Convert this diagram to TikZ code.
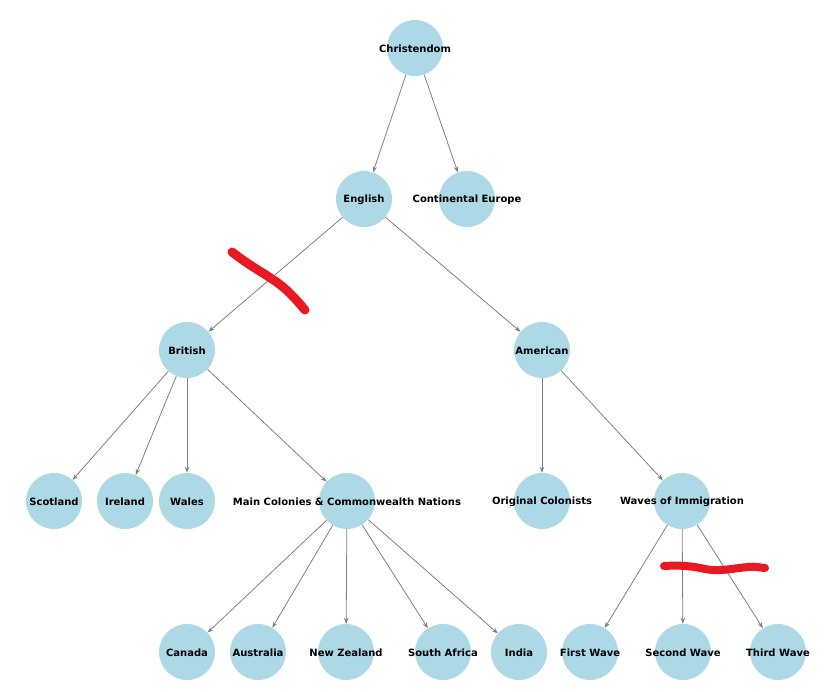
\documentclass[tikz,border=0pt]{standalone}
\usepackage{fontspec}
\setmainfont{DejaVu Sans}
\usetikzlibrary{arrows.meta}
\definecolor{nodeblue}{RGB}{173,216,230}
\definecolor{edgegray}{RGB}{128,128,128}
\definecolor{markred}{RGB}{232,25,35}
\begin{document}
\begin{tikzpicture}[x=1pt,y=-1pt,
  vert/.style={circle,fill=nodeblue,minimum size=56pt,inner sep=0pt,
    label={[font=\bfseries\fontsize{10}{12}\selectfont,text=black,yshift=-1pt]center:#1}},
  conn/.style={draw=edgegray,line width=0.8pt,-{Stealth[length=6pt,width=4.5pt]}}]
\useasboundingbox (0,0) rectangle (830,691);
\node[vert=Christendom] (chr) at (415,48) {};
\node[vert=English] (eng) at (364,199) {};
\node[vert={Continental Europe}] (ce) at (467,199) {};
\node[vert=British] (bri) at (187,350) {};
\node[vert=American] (ame) at (542,350) {};
\node[vert=Scotland] (sco) at (54,501) {};
\node[vert=Ireland] (ire) at (125,501) {};
\node[vert=Wales] (wal) at (187,501) {};
\node[vert={Main Colonies \& Commonwealth Nations}] (mcc) at (347,501) {};
\node[vert={Original Colonists}] (oc) at (542,501) {};
\node[vert={Waves of Immigration}] (woi) at (682,501) {};
\node[vert=Canada] (can) at (187,652) {};
\node[vert=Australia] (aus) at (258,652) {};
\node[vert={New Zealand}] (nz) at (346,652) {};
\node[vert={South Africa}] (sa) at (443,652) {};
\node[vert=India] (ind) at (519,652) {};
\node[vert={First Wave}] (fw) at (590,652) {};
\node[vert={Second Wave}] (sw) at (683,652) {};
\node[vert={Third Wave}] (tw) at (778,652) {};
\foreach \a/\b in {chr/eng,chr/ce,eng/bri,eng/ame,bri/sco,bri/ire,bri/wal,bri/mcc,
  ame/oc,ame/woi,mcc/can,mcc/aus,mcc/nz,mcc/sa,mcc/ind,woi/fw,woi/sw,woi/tw}
  \draw[conn] (\a) -- (\b);
\draw[markred,line width=9pt,line cap=round,line join=round]
  (232,252) .. controls (250,266) and (262,272) .. (272,279)
  .. controls (285,287) and (295,298) .. (305,310);
\draw[markred,line width=8pt,line cap=round,line join=round]
  (664,566) .. controls (680,565) and (692,566) .. (705,569)
  .. controls (720,572) and (735,568) .. (748,567)
  .. controls (756,566) and (762,568) .. (765,568);
\end{tikzpicture}
\end{document}
